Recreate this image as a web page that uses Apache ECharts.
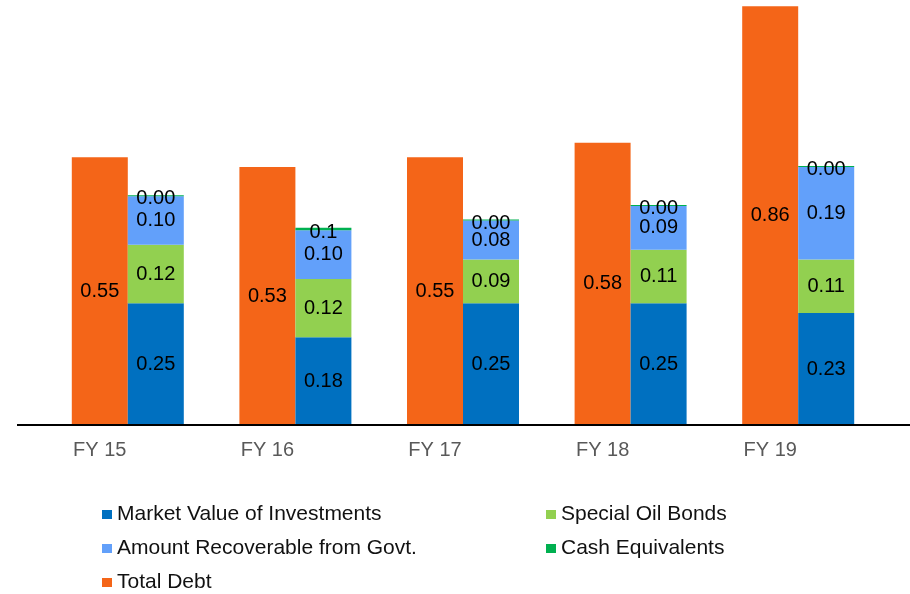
<!DOCTYPE html>
<html>
<head>
<meta charset="utf-8">
<script src="https://cdn.jsdelivr.net/npm/echarts@6/dist/echarts.min.js"></script>
<style>
  html, body { margin: 0; padding: 0; background: #fff; }
  #chart { width: 910px; height: 594px; }
</style>
</head>
<body>
<div id="chart"></div>
<script>
// Fiscal years on the category axis
const categories = ['FY 15', 'FY 16', 'FY 17', 'FY 18', 'FY 19'];

// Total debt (left bar of each pair)
const totalDebt = [0.55, 0.53, 0.55, 0.58, 0.86];

// Components of the stacked bar (bottom to top)
const marketValue = [0.25, 0.18, 0.25, 0.25, 0.23];
const oilBonds = [0.12, 0.12, 0.09, 0.11, 0.11];
const recoverable = [0.10, 0.10, 0.08, 0.09, 0.19];
const cashEquivalents = [0.002, 0.005, 0.002, 0.002, 0.002];
// Printed labels for the cash equivalents slice
const cashLabels = ['0.00', '0.1', '0.00', '0.00', '0.00'];

const FONT = 'Liberation Sans, Arial, sans-serif';
const chart = echarts.init(document.getElementById('chart'), null, { renderer: 'canvas' });

const valueLabel = {
  show: true,
  position: 'inside',
  color: '#000',
  fontFamily: FONT,
  fontSize: 20,
  formatter: p => p.value.toFixed(2)
};

const legendText = { color: '#111', fontFamily: FONT, fontSize: 21 };

chart.setOption({
  animation: false,
  backgroundColor: '#fff',
  grid: { left: 44, right: 28, top: 0, bottom: 169 },
  xAxis: {
    type: 'category',
    data: categories,
    axisLine: { show: false },
    axisTick: { show: false },
    axisLabel: {
      color: '#595959', fontFamily: FONT, fontSize: 20, margin: 15,
      // centre each year under the debt bar
      padding: [0, 56, 0, 0]
    }
  },
  yAxis: { type: 'value', min: 0, max: 0.873, show: false, splitLine: { show: false } },
  legend: [
    {
      orient: 'vertical', left: 97, top: 499, height: 120, itemGap: 13,
      itemWidth: 10, itemHeight: 9, icon: 'rect', textStyle: legendText,
      data: ['Market Value of Investments', 'Amount Recoverable from Govt.', 'Total Debt']
    },
    {
      orient: 'vertical', left: 541, top: 499, height: 120, itemGap: 13,
      itemWidth: 10, itemHeight: 9, icon: 'rect', textStyle: legendText,
      data: ['Special Oil Bonds', 'Cash Equivalents']
    }
  ],
  graphic: [{
    type: 'line',
    shape: { x1: 17, y1: 425, x2: 910, y2: 425 },
    style: { stroke: '#000', lineWidth: 2 },
    z: 10
  }],
  series: [
    {
      name: 'Total Debt', type: 'bar', data: totalDebt,
      barWidth: 56, barGap: '0%',
      itemStyle: { color: '#F46518' }, label: valueLabel
    },
    {
      name: 'Market Value of Investments', type: 'bar', stack: 'assets', data: marketValue,
      barWidth: 56, barGap: '0%',
      itemStyle: { color: '#0070C0' }, label: valueLabel
    },
    {
      name: 'Special Oil Bonds', type: 'bar', stack: 'assets', data: oilBonds,
      itemStyle: { color: '#92D050' }, label: valueLabel
    },
    {
      name: 'Amount Recoverable from Govt.', type: 'bar', stack: 'assets', data: recoverable,
      itemStyle: { color: '#62A0FA' }, label: valueLabel
    },
    {
      name: 'Cash Equivalents', type: 'bar', stack: 'assets', data: cashEquivalents,
      itemStyle: { color: '#00B050' },
      label: Object.assign({}, valueLabel, {
        position: 'inside',
        offset: [0, 3],
        formatter: p => cashLabels[p.dataIndex]
      })
    }
  ]
});
</script>
</body>
</html>
